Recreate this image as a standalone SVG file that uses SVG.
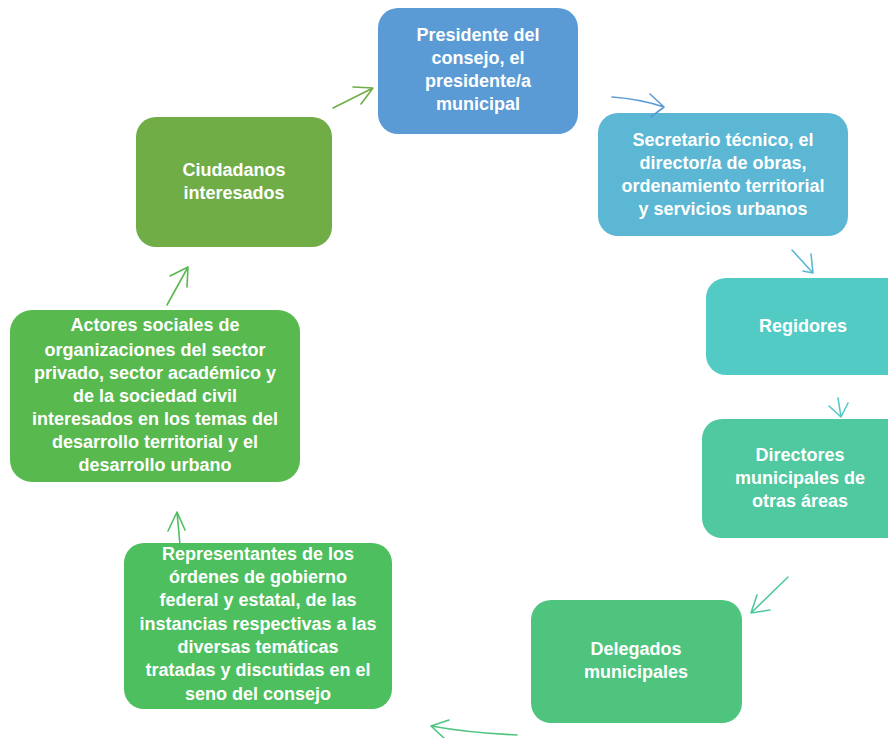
<svg xmlns="http://www.w3.org/2000/svg" width="888" height="738" viewBox="0 0 888 738">
<style>
.box{stroke:none}
.t{font-family:"Liberation Sans",Arial,sans-serif;font-weight:bold;font-size:18px;fill:#ffffff;text-anchor:middle}
.a{fill:none;stroke-width:1.6;stroke-linecap:round;stroke-linejoin:round}
</style>
<rect width="888" height="738" fill="#ffffff"/>
<g id="presidente">
<rect class="box" x="378" y="8" width="200" height="126" rx="20" fill="#5B9BD5"/>
<text class="t" x="478" y="41">Presidente del</text>
<text class="t" x="478" y="64">consejo, el</text>
<text class="t" x="478" y="87">presidente/a</text>
<text class="t" x="478" y="110">municipal</text>
</g>
<g id="secretario">
<rect class="box" x="598" y="113" width="250" height="123" rx="20" fill="#5BB7D4"/>
<text class="t" x="723" y="146">Secretario técnico, el</text>
<text class="t" x="723" y="169">director/a de obras,</text>
<text class="t" x="723" y="192">ordenamiento territorial</text>
<text class="t" x="723" y="215">y servicios urbanos</text>
</g>
<g id="regidores">
<rect class="box" x="706" y="278" width="202" height="97" rx="20" fill="#52CBC4"/>
<text class="t" x="803" y="332">Regidores</text>
</g>
<g id="directores">
<rect class="box" x="702" y="419" width="206" height="119" rx="20" fill="#50C8A0"/>
<text class="t" x="800" y="461">Directores</text>
<text class="t" x="800" y="484">municipales de</text>
<text class="t" x="800" y="507">otras áreas</text>
</g>
<g id="delegados">
<rect class="box" x="531" y="600" width="211" height="123" rx="20" fill="#4FC47E"/>
<text class="t" x="636" y="655">Delegados</text>
<text class="t" x="636" y="678">municipales</text>
</g>
<g id="representantes">
<rect class="box" x="124" y="543" width="268" height="166" rx="20" fill="#4DBF5E"/>
<text class="t" x="258" y="560">Representantes de los</text>
<text class="t" x="258" y="583">órdenes de gobierno</text>
<text class="t" x="258" y="606">federal y estatal, de las</text>
<text class="t" x="258" y="630">instancias respectivas a las</text>
<text class="t" x="258" y="653">diversas temáticas</text>
<text class="t" x="258" y="676">tratadas y discutidas en el</text>
<text class="t" x="258" y="700">seno del consejo</text>
</g>
<g id="actores">
<rect class="box" x="10" y="310" width="290" height="172" rx="22" fill="#58B94F"/>
<text class="t" x="155" y="331">Actores sociales de</text>
<text class="t" x="155" y="356">organizaciones del sector</text>
<text class="t" x="155" y="379">privado, sector académico y</text>
<text class="t" x="155" y="402">de la sociedad civil</text>
<text class="t" x="155" y="425">interesados en los temas del</text>
<text class="t" x="155" y="448">desarrollo territorial y el</text>
<text class="t" x="155" y="471">desarrollo urbano</text>
</g>
<g id="ciudadanos">
<rect class="box" x="136" y="117" width="196" height="130" rx="20" fill="#70AD47"/>
<text class="t" x="234" y="176">Ciudadanos</text>
<text class="t" x="234" y="199">interesados</text>
</g>
<g id="connectors">
<path class="a" stroke="#70AD47" d="M333,108 L373,88 M353,87 L373,88 L361,104"/>
<path class="a" stroke="#5B9BD5" d="M612,97 Q640,99 664,107 M650,94 L664,107 L651,117"/>
<path class="a" stroke="#5BB7D4" d="M792,250 L813,273 M811,254 L813,273 L803,271"/>
<path class="a" stroke="#52CBC4" d="M838,398 L841,417 M829,406 L841,417 L848,403"/>
<path class="a" stroke="#50C8A0" d="M788,577 L751,613 M757,595 L751,613 L770,610"/>
<path class="a" stroke="#4FC47E" d="M517,735 Q470,733 431,726 M449,720 L431,726 L444,738"/>
<path class="a" stroke="#4DBF5E" d="M180,545 L177,512 M168,531 L177,512 L185,530"/>
<path class="a" stroke="#58B94F" d="M167,305 L188,267 M170,276 L188,267 L187,287"/>
</g>
</svg>
